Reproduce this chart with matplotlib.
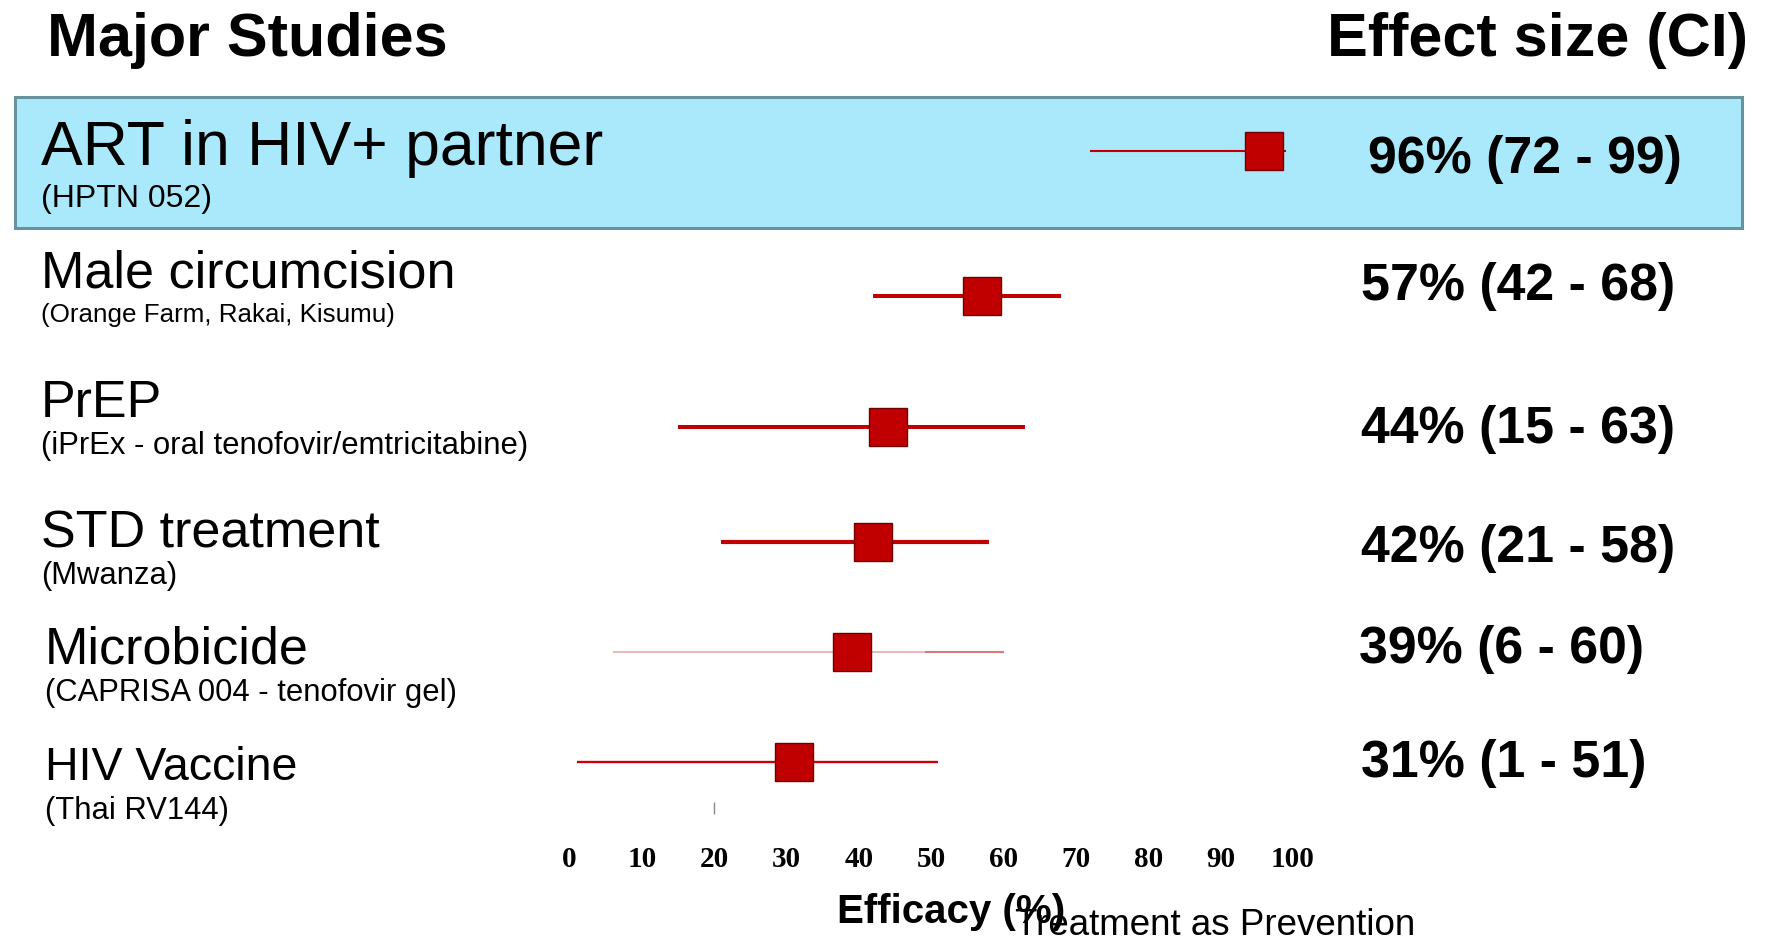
import matplotlib
matplotlib.use("Agg")
import matplotlib.pyplot as plt
from matplotlib.patches import Rectangle

# ---- data -------------------------------------------------------------
studies = ["ART in HIV+ partner", "Male circumcision", "PrEP",
           "STD treatment", "Microbicide", "HIV Vaccine"]
trials = ["(HPTN 052)", "(Orange Farm, Rakai, Kisumu)",
          "(iPrEx - oral tenofovir/emtricitabine)", "(Mwanza)",
          "(CAPRISA 004 - tenofovir gel)", "(Thai RV144)"]
efficacy = [96, 57, 44, 42, 39, 31]
ci_low = [72, 42, 15, 21, 6, 1]
ci_high = [99, 68, 63, 58, 60, 51]
x_ticks = [0, 10, 20, 30, 40, 50, 60, 70, 80, 90, 100]

# ---- layout (pixels from top-left of a 1768 x 938 canvas) ---------------
W, H = 1768, 938
row_y = [151, 296.5, 427, 542, 652, 762]          # marker row centres
name_x = [41, 41, 41, 41, 45, 45]
name_base = [165, 288, 417, 547, 663, 780]
name_size = [45, 37.5, 37.5, 37.5, 37.5, 33.5]
sub_base = [207, 322, 454, 584, 701, 819]
sub_size = [23, 18.7, 22.3, 22.3, 22.3, 22.3]
eff_x = [1368, 1361, 1361, 1361, 1359, 1361]
eff_base = [173, 300, 443, 562, 663, 777]
line_w = [1.5, 2.9, 2.9, 3.0, 1.2, 1.7]
line_c = ["#c00000", "#c00000", "#c00000", "#c00000", "#eaaaaa", "#c8000a"]

RED = "#c00000"
SANS = "Liberation Sans"


def fx(x):
    return x / W


def fy(y):
    return 1 - y / H


fig = plt.figure(figsize=(W / 100, H / 100), dpi=100)
fig.patch.set_facecolor("white")

# highlighted first row
fig.patches.append(Rectangle((fx(15), fy(228)), (1742 - 15) / W, (228 - 97) / H,
                             transform=fig.transFigure, facecolor="#aae9fb",
                             edgecolor="#6a929c", linewidth=2.2, zorder=-1))

# forest-plot axes: x in efficacy units, y in canvas pixels
ax_left, ax_right, ax_top, ax_bottom = 569.5, 1293, 96, 814
ax = fig.add_axes([fx(ax_left), fy(ax_bottom),
                   (ax_right - ax_left) / W, (ax_bottom - ax_top) / H])
ax.set_zorder(2)
ax.set_facecolor("none")
ax.set_xlim(0, 100)
ax.set_ylim(ax_bottom, ax_top)
for s in ax.spines.values():
    s.set_visible(False)
ax.set_yticks([])
ax.set_xticks(x_ticks)
ax.set_xticklabels([str(t) for t in x_ticks], fontfamily="Liberation Serif",
                   fontweight="bold", fontsize=21)
ax.tick_params(axis="x", which="major", length=0, pad=23)
ax.xaxis.remove_overlapping_locs = False
ax.set_xticks([x_ticks[2]], minor=True)
ax.tick_params(axis="x", which="minor", direction="in", length=8.5,
               width=1.0, color="#8a8a8a")

for i in range(len(studies)):
    ax.plot([ci_low[i], ci_high[i]], [row_y[i], row_y[i]], color=line_c[i],
            lw=line_w[i], solid_capstyle="butt", zorder=2, clip_on=False)
    if i == 4:
        # darker upper tail on the microbicide interval
        lo = ci_low[i] + 0.8 * (ci_high[i] - ci_low[i])
        ax.plot([lo, ci_high[i]], [row_y[i], row_y[i]], color="#d77a7a",
                lw=1.5, solid_capstyle="butt", zorder=2, clip_on=False)
    ax.plot(efficacy[i], row_y[i], marker="s", markersize=27,
            markerfacecolor=RED, markeredgecolor="#700000",
            markeredgewidth=1.0, zorder=3, clip_on=False)

# headers
fig.text(fx(47), fy(56), "Major Studies", fontfamily=SANS, fontweight="bold",
         fontsize=44, va="baseline", ha="left")
fig.text(fx(1327), fy(56), "Effect size (CI)", fontfamily=SANS,
         fontweight="bold", fontsize=44, va="baseline", ha="left")

# study labels and effect sizes
for i in range(len(studies)):
    fig.text(fx(name_x[i]), fy(name_base[i]), studies[i], fontfamily=SANS,
             fontsize=name_size[i], va="baseline", ha="left")
    fig.text(fx(name_x[i]), fy(sub_base[i]), trials[i], fontfamily=SANS,
             fontsize=sub_size[i], va="baseline", ha="left")
    fig.text(fx(eff_x[i]), fy(eff_base[i]),
             f"{efficacy[i]}% ({ci_low[i]} - {ci_high[i]})",
             fontfamily=SANS, fontweight="bold", fontsize=37.4,
             va="baseline", ha="left")

# axis title and footer
fig.text(fx(837), fy(923), "Efficacy (%)", fontfamily=SANS, fontweight="bold",
         fontsize=29, va="baseline", ha="left")
fig.text(fx(1015), fy(935), "Treatment as Prevention", fontfamily=SANS,
         fontsize=26.5, va="baseline", ha="left")

fig.savefig("out.png", dpi=100)
